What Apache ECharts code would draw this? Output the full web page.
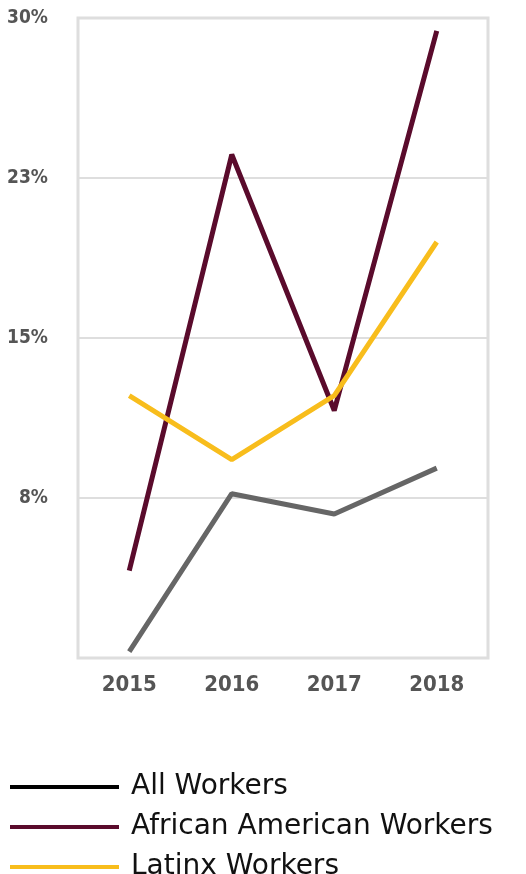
<!DOCTYPE html>
<html><head><meta charset="utf-8">
<script src="https://cdn.jsdelivr.net/npm/echarts@6/dist/echarts.min.js"></script>
<style>html,body{margin:0;padding:0;background:#fff}#c{width:526px;height:874px}</style>
</head><body><div id="c"></div>
<script>
const years = ['2015','2016','2017','2018'];
const allWorkers = [0.3, 7.7, 6.75, 8.9];
const africanAmerican = [4.1, 23.6, 11.6, 29.4];
const latinx = [12.3, 9.3, 12.3, 19.5];
const seriesNames = ['All Workers','African American Workers','Latinx Workers'];

const chart = echarts.init(document.getElementById('c'));
const tickFont = '"DejaVu Sans Condensed","Liberation Sans Narrow",sans-serif';
const legendBase = {orient:'vertical',left:10,padding:0,icon:'rect',itemWidth:109,itemHeight:4,
  textStyle:{fontFamily:'"DejaVu Sans",sans-serif',fontSize:28,lineHeight:32,color:'#111',padding:[0,0,0,7]}};
chart.setOption({
  animation:false,
  grid:{left:78,right:38,top:18,bottom:216,show:true,borderColor:'#dedede',borderWidth:3,containLabel:false},
  xAxis:{type:'category',data:years,boundaryGap:true,
    axisLine:{show:false},axisTick:{show:false},
    axisLabel:{color:'#555',fontFamily:tickFont,fontWeight:'bold',fontSize:22,margin:16}},
  yAxis:{type:'value',min:0,max:30,interval:7.5,
    axisLine:{show:false},axisTick:{show:false},
    splitLine:{lineStyle:{color:'#dedede',width:2}},
    axisLabel:{color:'#555',fontFamily:tickFont,fontWeight:'bold',fontSize:19,margin:30,
      formatter:v=>v===0?'':Math.round(v)+'%'}},
  legend:[
    Object.assign({top:771,data:[{name:seriesNames[0],itemStyle:{color:'#000'}}]},legendBase),
    Object.assign({top:811,data:[{name:seriesNames[1]}]},legendBase),
    Object.assign({top:851,data:[{name:seriesNames[2]}]},legendBase)
  ],
  series:[
    {name:seriesNames[0],type:'line',data:allWorkers,symbol:'none',lineStyle:{color:'#666',width:5},itemStyle:{color:'#666'}},
    {name:seriesNames[1],type:'line',data:africanAmerican,symbol:'none',lineStyle:{color:'#5a0b2c',width:5},itemStyle:{color:'#5a0b2c'}},
    {name:seriesNames[2],type:'line',data:latinx,symbol:'none',lineStyle:{color:'#f8bd1c',width:5},itemStyle:{color:'#f8bd1c'}}
  ]
});
</script></body></html>
